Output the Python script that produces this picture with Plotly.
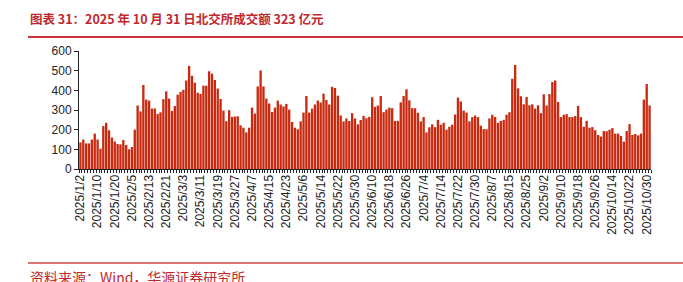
import pandas as pd
import plotly.graph_objects as go

# Trading days (A-share calendar 2025, Jan 2 - Oct 31)
holidays = ["2025-01-01", "2025-01-28", "2025-01-29", "2025-01-30", "2025-01-31",
            "2025-02-03", "2025-02-04", "2025-04-04", "2025-05-01", "2025-05-02",
            "2025-05-05", "2025-06-02", "2025-10-01", "2025-10-02", "2025-10-03",
            "2025-10-06", "2025-10-07", "2025-10-08"]
days = [d for d in pd.bdate_range("2025-01-02", "2025-10-31") if d.strftime("%Y-%m-%d") not in holidays]
dates = [f"{d.year}/{d.month}/{d.day}" for d in days]

# 北交所成交额（亿元）
turnover = [
    135, 150, 130, 130, 150, 180, 150, 103, 218, 235, 197, 160, 140, 127, 125, 147, 122, 100,
    112, 200, 323, 293, 427, 353, 348, 307, 308, 280, 288, 355, 395, 358, 295, 320, 378, 392,
    403, 450, 524, 474, 439, 388, 382, 424, 423, 497, 485, 453, 409, 356, 297, 243, 299, 265, 267, 268, 222,
    210, 186, 210, 312, 282, 420, 501, 420, 358, 333, 290, 312, 348, 328, 318, 331, 302, 239, 210, 202, 242,
    287, 371, 287, 307, 328, 348, 338, 383, 351, 328, 418, 412, 373, 272, 242, 257, 244, 284, 257,
    227, 249, 270, 258, 265, 365, 316, 323, 371, 289, 302, 312, 309, 244, 245, 339, 371, 405, 349, 309,
    309, 286, 242, 264, 186, 212, 227, 213, 250, 225, 235, 200, 215, 225, 277, 363, 343, 297, 287, 242, 264, 272, 264,
    220, 203, 202, 257, 276, 265, 235, 244, 250, 276, 289, 459, 529, 410, 370, 329, 366, 324, 329, 307, 324,
    284, 380, 323, 381, 442, 450, 341, 264, 276, 279, 264, 264, 269, 321, 264, 215, 245, 210, 213, 197, 173, 165,
    193, 192, 200, 208, 180, 180, 168, 139, 193, 228, 173, 178, 171, 180, 353, 432, 323,
]
title_text = "图表 31：2025 年 10 月 31 日北交所成交额 323 亿元"
source_text = "资料来源：Wind，华源证券研究所"

W, H = 683, 282
L, R, T, B = 79, 32, 51, 113
pw, ph = W - L - R, H - T - B

def px(x):
    return (x - L) / pw

def py(y):
    return (H - B - y) / ph

xs = list(range(len(turnover)))
tick_idx = list(range(0, len(dates), 6))

fig = go.Figure(go.Bar(x=xs, y=turnover, marker=dict(color="#C9290F", line=dict(width=0))))

red = "#C0282E"
fig.update_layout(
    width=W, height=H,
    margin=dict(l=L, r=R, t=T, b=B),
    paper_bgcolor="white", plot_bgcolor="white",
    bargap=0.18,
    showlegend=False,
    font=dict(family="Liberation Sans, Arial", size=12, color="#222"),
    xaxis=dict(
        range=[-0.5, len(turnover) - 0.5],
        tickmode="array", tickvals=tick_idx, ticktext=[dates[i] for i in tick_idx],
        tickangle=-90, ticks="", showline=True, linecolor="#222", linewidth=1,
        showgrid=False, zeroline=False,
        tickfont=dict(size=12, color="#222"),
        minor=dict(tickmode="linear", tick0=-0.5, dtick=1, ticks="outside", ticklen=3,
                   tickcolor="#222", tickwidth=1, showgrid=False),
    ),
    yaxis=dict(
        range=[0, 600], dtick=100, ticks="outside", ticklen=4, tickcolor="#222",
        showline=True, linecolor="#222", linewidth=1, showgrid=False, zeroline=False,
        tickfont=dict(size=12, color="#222"),
    ),
    shapes=[
        dict(type="line", xref="paper", yref="paper", x0=px(28), x1=px(683), y0=py(37), y1=py(37),
             line=dict(color="#C8343A", width=2)),
        dict(type="line", xref="paper", yref="paper", x0=px(28), x1=px(683), y0=py(263), y1=py(263),
             line=dict(color="#D04545", width=1.5)),
    ],
    annotations=[
        dict(text=title_text, xref="paper", yref="paper", x=px(28), y=py(18),
             xanchor="left", yanchor="middle", showarrow=False,
             font=dict(family="Noto Sans CJK SC", size=12.5, color=red, weight="bold")),
        dict(text=source_text, xref="paper", yref="paper", x=px(28), y=py(277),
             xanchor="left", yanchor="middle", showarrow=False,
             font=dict(family="Noto Sans CJK SC", size=14, color=red)),
    ],
)

fig.write_html("out.html")
